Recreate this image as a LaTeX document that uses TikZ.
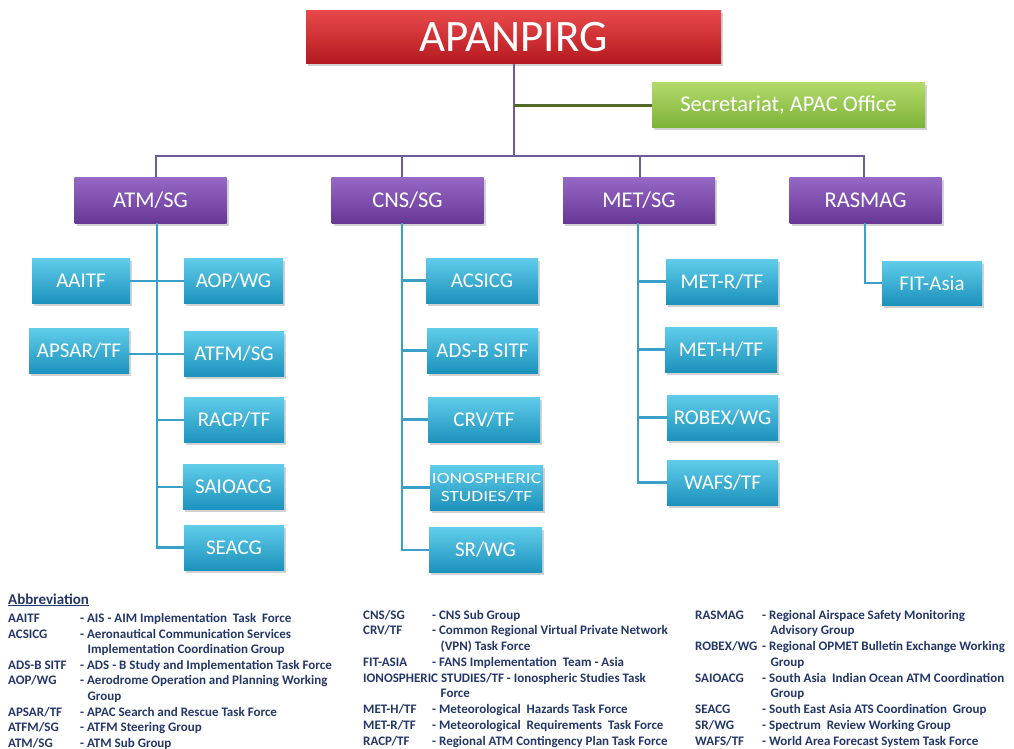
\documentclass[tikz,border=0pt]{standalone}
\usepackage{fontspec}
\setmainfont{Carlito}
\usetikzlibrary{shadows}
\definecolor{redT}{RGB}{232,72,74}
\definecolor{redB}{RGB}{180,24,30}
\definecolor{grnT}{RGB}{178,218,106}
\definecolor{grnB}{RGB}{124,178,56}
\definecolor{purT}{RGB}{150,104,198}
\definecolor{purB}{RGB}{104,56,150}
\definecolor{cyaT}{RGB}{96,204,234}
\definecolor{cyaB}{RGB}{28,146,188}
\definecolor{pline}{RGB}{112,92,156}
\definecolor{gline}{RGB}{80,104,40}
\definecolor{cline}{RGB}{58,160,200}
\definecolor{legc}{RGB}{35,55,105}
\tikzset{
  boxbase/.style={rectangle, inner sep=0pt, text=white, align=center,
    drop shadow={shadow xshift=2pt, shadow yshift=-2.5pt, opacity=0.35}},
  topbox/.style={boxbase, top color=redT, bottom color=redB,
    minimum width=415pt, minimum height=53pt, font=\fontsize{45}{50}\selectfont},
  secbox/.style={boxbase, top color=grnT, bottom color=grnB,
    minimum width=273pt, minimum height=45pt, font=\fontsize{22.5}{26}\selectfont},
  sgbox/.style={boxbase, top color=purT, bottom color=purB,
    minimum width=152pt, minimum height=46pt, font=\fontsize{22.5}{26}\selectfont},
  tfbox/.style={boxbase, top color=cyaT, bottom color=cyaB,
    minimum height=45pt, font=\fontsize{21}{24}\selectfont},
  pconn/.style={draw=pline, line width=2.5pt},
  gconn/.style={draw=gline, line width=2.5pt},
  cconn/.style={draw=cline, line width=2.5pt},
  legtext/.style={anchor=base west, inner sep=0pt, text=legc,
    font=\fontsize{13}{15}\selectfont\bfseries},
}
\begin{document}
\begin{tikzpicture}[x=1pt,y=-1pt]
\useasboundingbox (0,0) rectangle (1014,749);
\fill[white] (0,0) rectangle (1014,749);

% top level
\node[topbox] (apan) at (513.5,37.5) {APANPIRG};
\node[secbox] (sec) at (788.5,105.5) {Secretariat, APAC Office};

% sub groups
\node[sgbox] (atm) at (150.5,200) {ATM/SG};
\node[sgbox] (cns) at (407.5,200) {CNS/SG};
\node[sgbox] (met) at (639,200) {MET/SG};
\node[sgbox] (rasmag) at (865.5,200) {RASMAG};

% ATM children
\node[tfbox, minimum width=98pt]  (aaitf) at (81,281) {AAITF};
\node[tfbox, minimum width=99pt]  (aop)   at (233.5,281) {AOP/WG};
\node[tfbox, minimum width=100pt] (apsar) at (79,351) {APSAR/TF};
\node[tfbox, minimum width=100pt] (atfm)  at (234,354) {ATFM/SG};
\node[tfbox, minimum width=100pt] (racp)  at (234,420) {RACP/TF};
\node[tfbox, minimum width=101pt] (saio)  at (233.5,487) {SAIOACG};
\node[tfbox, minimum width=100pt] (seacg) at (234,547.5) {SEACG};

% CNS children
\node[tfbox, minimum width=112pt] (acsicg) at (482,280.5) {ACSICG};
\node[tfbox, minimum width=111pt] (adsb)   at (482.5,350.5) {ADS-B SITF};
\node[tfbox, minimum width=112pt] (crv)    at (484,419.5) {CRV/TF};
\node[tfbox, minimum width=113pt, font=\fontsize{15.5}{18}\selectfont] (iono) at (486.5,487.5)
  {\scalebox{1.25}[1]{IONOSPHERIC}\\\scalebox{1.25}[1]{STUDIES/TF}};
\node[tfbox, minimum width=113pt] (srwg)   at (485.5,550) {SR/WG};

% MET children
\node[tfbox, minimum width=112pt] (metr)  at (722,281.5) {MET-R/TF};
\node[tfbox, minimum width=112pt] (meth)  at (721,349.5) {MET-H/TF};
\node[tfbox, minimum width=111pt] (robex) at (722.5,417.5) {ROBEX/WG};
\node[tfbox, minimum width=111pt] (wafs)  at (722.5,482.5) {WAFS/TF};

% RASMAG child
\node[tfbox, minimum width=100pt, minimum height=44pt] (fit) at (932,283) {FIT-Asia};

% junctions
\coordinate (j0) at (514,156);
\coordinate (ja) at (156,156);
\coordinate (jc) at (402,156);
\coordinate (jm) at (640,156);
\coordinate (jr) at (864,156);
\coordinate (as) at (157,300);
\coordinate (cs) at (402,300);
\coordinate (ms) at (638,300);
\coordinate (rs) at (865,300);

% purple / green connectors
\draw[pconn] (apan.south -| j0) -- (j0);
\draw[gconn] (sec.west) -- (sec.west -| j0);
\draw[pconn, line cap=rect] (ja) -- (jr);
\draw[pconn] (ja) -- (ja |- atm.north);
\draw[pconn] (jc) -- (jc |- cns.north);
\draw[pconn] (jm) -- (jm |- met.north);
\draw[pconn] (jr) -- (jr |- rasmag.north);

% ATM tree
\draw[cconn] (atm.south -| as) |- (seacg.west);
\draw[cconn] (aaitf.east) -- (aop.west);
\draw[cconn] (apsar.east |- atfm.west) -- (atfm.west);
\draw[cconn] (racp.west) -- (racp.west -| as);
\draw[cconn] (saio.west) -- (saio.west -| as);

% CNS tree
\draw[cconn] (cns.south -| cs) |- (srwg.west);
\draw[cconn] (acsicg.west) -- (acsicg.west -| cs);
\draw[cconn] (adsb.west) -- (adsb.west -| cs);
\draw[cconn] (crv.west) -- (crv.west -| cs);
\draw[cconn] (iono.west) -- (iono.west -| cs);

% MET tree
\draw[cconn] (met.south -| ms) |- (wafs.west);
\draw[cconn] (metr.west) -- (metr.west -| ms);
\draw[cconn] (meth.west) -- (meth.west -| ms);
\draw[cconn] (robex.west) -- (robex.west -| ms);

% RASMAG tree
\draw[cconn] (rasmag.south -| rs) |- (fit.west);

% legend
\node[legtext, font=\fontsize{15}{17}\selectfont\bfseries] (abbr) at (8,604) {\underline{Abbreviation}};

\node[legtext] (a1) at (8,622.5) {AAITF};
\node[legtext] (d1) at (80,622.5) {- AIS - AIM Implementation\ \ Task\ \ Force};
\node[legtext] (a2) at (8,638.1) {ACSICG};
\node[legtext] (d2) at (80,638.1) {- Aeronautical Communication Services};
\node[legtext] (d2b) at (87.5,653.7) {Implementation Coordination Group};
\node[legtext] (a3) at (8,669.3) {ADS-B SITF};
\node[legtext] (d3) at (80,669.3) {- ADS - B Study and Implementation Task Force};
\node[legtext] (a4) at (8,684.9) {AOP/WG};
\node[legtext] (d4) at (80,684.9) {- Aerodrome Operation and Planning Working};
\node[legtext] (d4b) at (87.5,700.5) {Group};
\node[legtext] (a5) at (8,716.1) {APSAR/TF};
\node[legtext] (d5) at (80,716.1) {- APAC Search and Rescue Task Force};
\node[legtext] (a6) at (8,731.7) {ATFM/SG};
\node[legtext] (d6) at (80,731.7) {- ATFM Steering Group};
\node[legtext] (a7) at (8,747.3) {ATM/SG};
\node[legtext] (d7) at (80,747.3) {- ATM Sub Group};

\node[legtext] (b1) at (363,619) {CNS/SG};
\node[legtext] (e1) at (432,619) {- CNS Sub Group};
\node[legtext] (b2) at (363,634.75) {CRV/TF};
\node[legtext] (e2) at (432,634.75) {- Common Regional Virtual Private Network};
\node[legtext] (e2b) at (440.5,650.5) {(VPN) Task Force};
\node[legtext] (b3) at (363,666.25) {FIT-ASIA};
\node[legtext] (e3) at (432,666.25) {- FANS Implementation\ \ Team - Asia};
\node[legtext] (b4) at (363,682) {IONOSPHERIC STUDIES/TF - Ionospheric Studies Task};
\node[legtext] (e4b) at (440.5,697.75) {Force};
\node[legtext] (b5) at (363,713.5) {MET-H/TF};
\node[legtext] (e5) at (432,713.5) {- Meteorological\ \ Hazards Task Force};
\node[legtext] (b6) at (363,729.25) {MET-R/TF};
\node[legtext] (e6) at (432,729.25) {- Meteorological\ \ Requirements\ \ Task Force};
\node[legtext] (b7) at (363,745) {RACP/TF};
\node[legtext] (e7) at (432,745) {- Regional ATM Contingency Plan Task Force};

\node[legtext] (c1) at (695,619) {RASMAG};
\node[legtext] (f1) at (762,619) {- Regional Airspace Safety Monitoring};
\node[legtext] (f1b) at (770.5,634.75) {Advisory Group};
\node[legtext] (c2) at (695,650.5) {ROBEX/WG};
\node[legtext] (f2) at (762,650.5) {- Regional OPMET Bulletin Exchange Working};
\node[legtext] (f2b) at (770.5,666.25) {Group};
\node[legtext] (c3) at (695,682) {SAIOACG};
\node[legtext] (f3) at (762,682) {- South Asia\ \ Indian Ocean ATM Coordination};
\node[legtext] (f3b) at (770.5,697.75) {Group};
\node[legtext] (c4) at (695,713.5) {SEACG};
\node[legtext] (f4) at (762,713.5) {- South East Asia ATS Coordination\ \ Group};
\node[legtext] (c5) at (695,729.25) {SR/WG};
\node[legtext] (f5) at (762,729.25) {- Spectrum\ \ Review Working Group};
\node[legtext] (c6) at (695,745) {WAFS/TF};
\node[legtext] (f6) at (762,745) {- World Area Forecast System Task Force};
\end{tikzpicture}
\end{document}
